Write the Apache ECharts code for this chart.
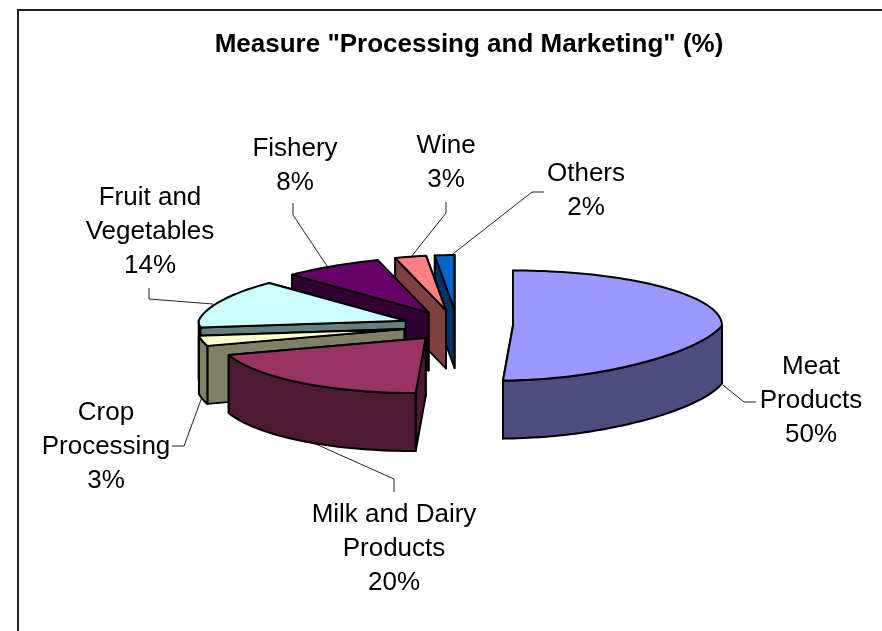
<!DOCTYPE html>
<html>
<head>
<meta charset="utf-8">
<style>html,body{margin:0;padding:0;background:#fff}#chart{width:882px;height:631px}</style>
<script src="https://cdn.jsdelivr.net/npm/echarts@6/dist/echarts.min.js"></script>
</head>
<body>
<div id="chart"></div>
<script>
var names = ['Meat\nProducts', 'Milk and Dairy\nProducts', 'Crop\nProcessing', 'Fruit and\nVegetables', 'Fishery', 'Wine', 'Others'];
var values = [50, 20, 3, 14, 8, 3, 2];
var topColors = ['#9999ff', '#993366', '#ffffcc', '#ccffff', '#660066', '#ff8080', '#0066cc'];
var sideColors = ['#4d4d80', '#4d1a33', '#808066', '#668080', '#330033', '#804040', '#003366'];
// back slices first so the front ones paint over them
var drawOrder = [6, 5, 4, 3, 2, 0, 1];

// label centre + leader line for each slice, same order as names
var labelPos = [[811, 350], [394, 498], [106, 396], [150, 181], [295, 132], [446, 129], [586, 157]];
var leaders = [
    [[723, 385], [744, 402], [756, 402]],
    [[300, 437], [394, 479], [394, 492]],
    [[202, 397], [184, 446], [172, 446]],
    [[213, 304], [149, 299], [149, 288]],
    [[327, 266], [293, 215], [293, 203]],
    [[411, 257], [446, 213], [446, 202]],
    [[449, 257], [532, 192], [544, 192]]
];

var pie = { cx: 458, cy: 325.5, explodeX: 55, explodeY: 15.5, ry: 55, depth: 58 };
var total = values.reduce(function (a, b) { return a + b; }, 0);

// where a pie angle lands on the tilted top, relative to the slice apex.
// the old 3D pie isn't a clean ellipse, radius changes per quadrant
function rimPoint(a, ox, oy, drop) {
    var c = Math.cos(a), s = Math.sin(a);
    var r;
    if (s >= 0) r = c >= 0 ? 209 : 209 + 45 * c;
    else r = c < 0 ? 207 : 207 - 25 * c - 25 * Math.pow(c, 6);
    var skew = c < 0 ? -10 * c * c * c * c : 0;
    return [ox + r * s + skew, oy - pie.ry * c + drop];
}

function renderSlice(params, api) {
    var idx = api.value(0);
    var start = 0;
    for (var i = 0; i < idx; i++) start += values[i];
    var a0 = start / total * Math.PI * 2;
    var a1 = (start + api.value(1)) / total * Math.PI * 2;
    var mid = (a0 + a1) / 2;
    var ox = pie.cx + pie.explodeX * Math.sin(mid);
    var oy = pie.cy - pie.explodeY * Math.cos(mid);

    function arc(from, to, drop) {
        var pts = [];
        var steps = Math.max(4, Math.round((to - from) / 0.03));
        for (var k = 0; k <= steps; k++) {
            pts.push(rimPoint(from + (to - from) * k / steps, ox, oy, drop));
        }
        return pts;
    }
    function poly(points, fill) {
        return {
            type: 'polygon',
            shape: { points: points },
            style: { fill: fill, stroke: '#000', lineWidth: 2, lineJoin: 'round' }
        };
    }
    function face(a) {
        var p = rimPoint(a, ox, oy, 0);
        return poly([[ox, oy], p, [p[0], p[1] + pie.depth], [ox, oy + pie.depth]], sideColors[idx]);
    }

    var children = [
        { type: 'polyline', shape: { points: leaders[idx] }, style: { fill: 'none', stroke: '#222', lineWidth: 1 } },
        face(a1),
        face(a0)
    ];
    // outer wall only shows on the front half of the rim
    var wallFrom = Math.max(a0, Math.PI / 2), wallTo = Math.min(a1, Math.PI * 1.5);
    if (wallTo > wallFrom) {
        children.push(poly(arc(wallFrom, wallTo, 0).concat(arc(wallFrom, wallTo, pie.depth).reverse()), sideColors[idx]));
    }
    children.push(poly([[ox, oy]].concat(arc(a0, a1, 0)), topColors[idx]));
    children.push({
        type: 'text',
        style: {
            text: names[idx] + '\n' + api.value(1) + '%',
            x: labelPos[idx][0], y: labelPos[idx][1],
            align: 'center', verticalAlign: 'top',
            font: '26px "Liberation Sans", Arial, sans-serif',
            lineHeight: 34, fill: '#000'
        }
    });
    return { type: 'group', children: children };
}

var chart = echarts.init(document.getElementById('chart'));
chart.setOption({
    animation: false,
    title: {
        text: 'Measure "Processing and Marketing" (%)',
        left: 464, top: 27, textAlign: 'center',
        textStyle: { fontFamily: '"Liberation Sans", Arial, sans-serif', fontSize: 26, fontWeight: 'bold', color: '#000' }
    },
    graphic: [{
        type: 'polyline',
        shape: { points: [[18, 631], [18, 10], [882, 10]] },
        style: { fill: 'none', stroke: '#222', lineWidth: 2 }
    }],
    series: [{
        type: 'custom',
        coordinateSystem: 'none',
        renderItem: renderSlice,
        data: drawOrder.map(function (i) { return [i, values[i]]; })
    }]
});
window.addEventListener('resize', chart.resize);
</script>
</body>
</html>
